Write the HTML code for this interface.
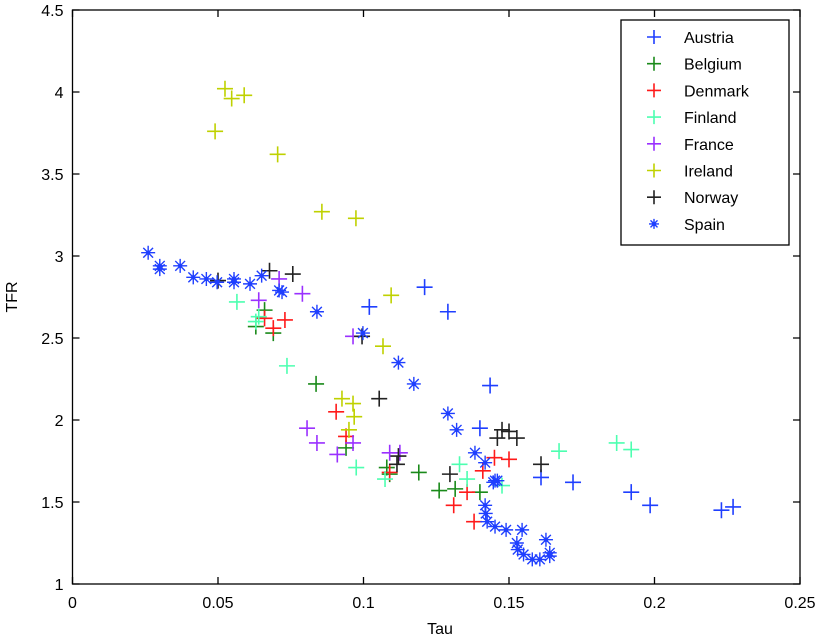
<!DOCTYPE html>
<html><head><meta charset="utf-8"><style>
html,body{margin:0;padding:0;background:#fff;}
svg{display:block;font-family:"Liberation Sans",Arial,sans-serif;}
</style></head><body>
<svg id="chart" width="819" height="639" viewBox="0 0 819 639" xmlns="http://www.w3.org/2000/svg">
<rect x="0" y="0" width="819" height="639" fill="#fff"/>
<g id="marks"></g>
<g id="axes"></g>
<g id="legend"></g>
</svg>
<script>
const xTicks = [0, 0.05, 0.1, 0.15, 0.2, 0.25];
const xTickLabels = ["0", "0.05", "0.1", "0.15", "0.2", "0.25"];
const yTicks = [1, 1.5, 2, 2.5, 3, 3.5, 4, 4.5];
const yTickLabels = ["1", "1.5", "2", "2.5", "3", "3.5", "4", "4.5"];
const seriesNames = ["Austria","Belgium","Denmark","Finland","France","Ireland","Norway","Spain"];
const austriaX = [0.102,0.121,0.129,0.1435,0.140,0.161,0.172,0.192,0.1985,0.223,0.227];
const austriaY = [2.69,2.81,2.66,2.21,1.95,1.65,1.62,1.56,1.48,1.45,1.47];
const belgiumX = [0.063,0.066,0.069,0.0837,0.094,0.108,0.109,0.119,0.126,0.1315,0.140];
const belgiumY = [2.57,2.67,2.53,2.22,1.83,1.71,1.67,1.68,1.57,1.58,1.56];
const denmarkX = [0.066,0.069,0.073,0.0906,0.094,0.109,0.131,0.1356,0.138,0.141,0.145,0.150];
const denmarkY = [2.62,2.56,2.61,2.05,1.90,1.68,1.48,1.56,1.38,1.69,1.77,1.76];
const finlandX = [0.0565,0.064,0.063,0.0737,0.0975,0.1074,0.133,0.1356,0.1476,0.1672,0.187,0.192];
const finlandY = [2.72,2.63,2.60,2.33,1.71,1.64,1.73,1.64,1.60,1.81,1.86,1.82];
const franceX = [0.064,0.071,0.079,0.0964,0.0806,0.084,0.091,0.0964,0.109,0.1125];
const franceY = [2.73,2.86,2.77,2.51,1.95,1.86,1.79,1.86,1.80,1.80];
const irelandX = [0.049,0.0524,0.0547,0.059,0.0705,0.0857,0.0974,0.1095,0.1067,0.0926,0.0964,0.0968,0.095];
const irelandY = [3.76,4.02,3.96,3.98,3.62,3.27,3.23,2.76,2.45,2.13,2.10,2.02,1.94];
const norwayX = [0.050,0.0677,0.0757,0.0995,0.1054,0.112,0.1115,0.1297,0.1476,0.150,0.1527,0.146,0.161];
const norwayY = [2.85,2.91,2.89,2.51,2.13,1.78,1.73,1.67,1.94,1.93,1.89,1.89,1.73];
const spainX = [0.026,0.030,0.030,0.037,0.0415,0.046,0.0497,0.0555,0.0555,0.061,0.065,0.071,0.072,0.084,0.0998,0.112,0.1173,0.129,0.132,0.1383,0.1418,0.1452,0.146,0.1446,0.1418,0.142,0.1425,0.1452,0.149,0.1545,0.1527,0.153,0.155,0.158,0.1606,0.164,0.1627,0.164];
const spainY = [3.02,2.92,2.94,2.94,2.87,2.86,2.84,2.86,2.84,2.83,2.88,2.79,2.78,2.66,2.53,2.35,2.22,2.04,1.94,1.80,1.74,1.63,1.63,1.62,1.48,1.43,1.38,1.35,1.33,1.33,1.25,1.21,1.18,1.15,1.15,1.19,1.27,1.17];
const seriesX = [austriaX,belgiumX,denmarkX,finlandX,franceX,irelandX,norwayX,spainX];
const seriesY = [austriaY,belgiumY,denmarkY,finlandY,franceY,irelandY,norwayY,spainY];
const colors = ["#1f3fff","#1a8a1a","#ff1a1a","#4dffb0","#9a30ff","#bfd100","#222222","#1f3fff"];

const NS = "http://www.w3.org/2000/svg";
const L = 72.5, R = 800, T = 10, B = 584;
function sx(v){ return L + (v - 0) / 0.25 * (R - L); }
function sy(v){ return B - (v - 1) / 3.5 * (B - T); }
function mk(tag, attrs, parent){ const e = document.createElementNS(NS, tag); for (const k in attrs) e.setAttribute(k, attrs[k]); parent.appendChild(e); return e; }

const marks = document.getElementById('marks');
const axes = document.getElementById('axes');
const legend = document.getElementById('legend');

function plus(g, x, y, h, c){
  mk('path', {d:`M${x-h} ${y}H${x+h}M${x} ${y-h}V${y+h}`, stroke:c, 'stroke-width':1.6, fill:'none'}, g);
}
function star(g, x, y, h, c){
  const d = h*0.7;
  mk('path', {d:`M${x-h} ${y}H${x+h}M${x} ${y-h}V${y+h}M${x-d} ${y-d}L${x+d} ${y+d}M${x-d} ${y+d}L${x+d} ${y-d}`, stroke:c, 'stroke-width':1.4, fill:'none'}, g);
  mk('circle', {cx:x, cy:y, r:2.2, fill:c}, g);
}

seriesNames.forEach((name, si) => {
  const g = mk('g', {}, marks);
  
  
  const xs = seriesX[si], ys = seriesY[si];
  for (let i = 0; i < xs.length; i++) {
    const pg = mk('g', {}, g);
    
    
    if (name === 'Spain') star(pg, sx(xs[i]), sy(ys[i]), 7, colors[si]);
    else plus(pg, sx(xs[i]), sy(ys[i]), 8, colors[si]);
  }
});

// axes box
const box = mk('rect', {x:L, y:T, width:R-L, height:B-T, fill:'none', stroke:'#000', 'stroke-width':1.3}, axes);



xTicks.forEach((v, i) => {
  const x = sx(v);
  mk('path', {d:`M${x} ${B}V${B-7}M${x} ${T}V${T+7}`, stroke:'#000', 'stroke-width':1.3}, axes);
  const t = mk('text', {x:x, y:B+24, 'text-anchor':'middle', 'font-size':16, fill:'#000'}, axes);
  t.textContent = xTickLabels[i];
  
  
});
yTicks.forEach((v, i) => {
  const y = sy(v);
  mk('path', {d:`M${L} ${y}H${L+7}M${R} ${y}H${R-7}`, stroke:'#000', 'stroke-width':1.3}, axes);
  const t = mk('text', {x:L-9, y:y+6, 'text-anchor':'end', 'font-size':16, fill:'#000'}, axes);
  t.textContent = yTickLabels[i];
  
  
});
const xt = mk('text', {x:440, y:634, 'text-anchor':'middle', 'font-size':16, fill:'#000'}, axes);
xt.textContent = 'Tau';


const yt = mk('text', {x:0, y:0, 'text-anchor':'middle', 'font-size':16, fill:'#000', transform:'translate(17,297) rotate(-90)'}, axes);
yt.textContent = 'TFR';



// legend
const lb = mk('rect', {x:621, y:20, width:168, height:225, fill:'#fff', stroke:'#000', 'stroke-width':1.3}, legend);


seriesNames.forEach((name, si) => {
  const y = 37 + si * 26.7;
  const g = mk('g', {}, legend);
  
  
  if (name === 'Spain') star(g, 654, y, 5, colors[si]);
  else plus(g, 654, y, 7, colors[si]);
  const t = mk('text', {x:684, y:y+6, 'font-size':16, fill:'#000'}, g);
  t.textContent = name;
});
</script>
</body></html>
